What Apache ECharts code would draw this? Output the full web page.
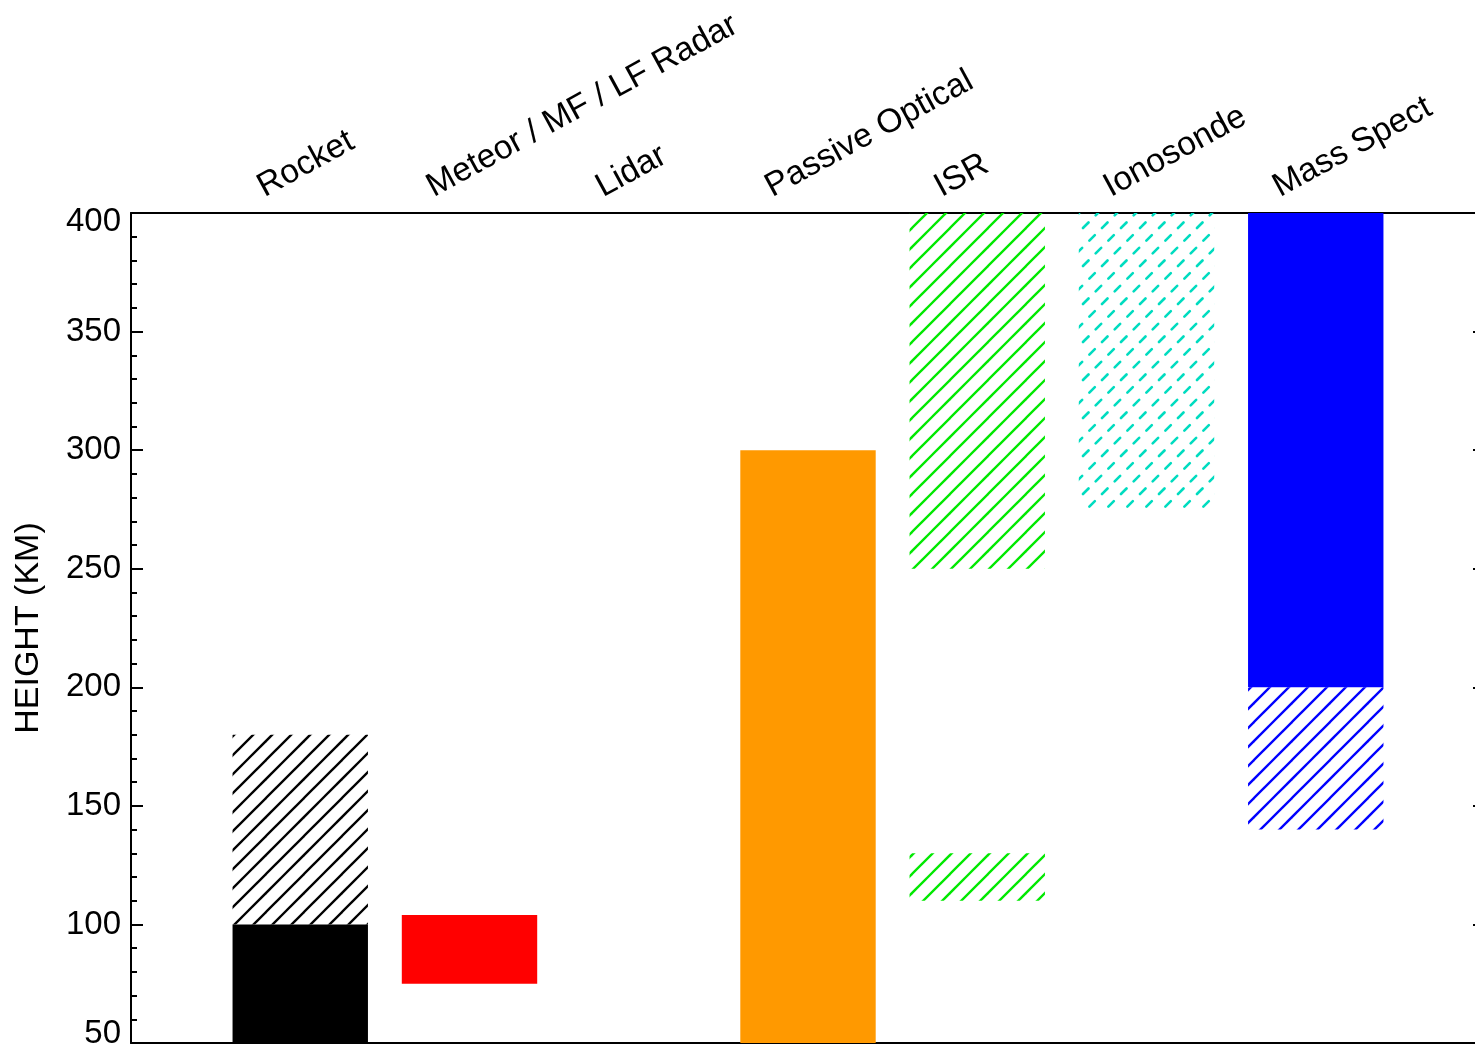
<!DOCTYPE html>
<html>
<head>
<meta charset="utf-8">
<script src="https://cdn.jsdelivr.net/npm/echarts@6/dist/echarts.min.js"></script>
<style>
  html, body { margin: 0; padding: 0; background: #fff; overflow: hidden; }
  /* the plot frame runs a little past the right edge of the picture */
  #main { width: 1495px; height: 1045px; }
</style>
</head>
<body>
<div id="main"></div>
<script>
// instruments along the top
var categories = ['Rocket', 'Meteor / MF / LF Radar', 'Lidar', 'Passive Optical', 'ISR', 'Ionosonde', 'Mass Spect'];
var yTicks = [50, 100, 150, 200, 250, 300, 350, 400];

// height ranges (km) for each instrument, x = instrument index (1..7)
var solidX    = [1, 2, 4, 7];
var solidLow  = [50, 75, 50, 200];
var solidHigh = [100, 104, 300, 400];

var hatchX    = [1, 5, 5, 7];
var hatchLow  = [100, 250, 110, 140];
var hatchHigh = [180, 400, 130, 200];

var dashX    = [6];
var dashLow  = [275];
var dashHigh = [400];

var FONT = '"Liberation Sans", Arial, Helvetica, sans-serif';

var solidColors = ['#000000', '#ff0000', '#ff9900', '#0000ff'];
var hatchColors = ['#000000', '#00e800', '#00e800', '#0000ff'];

// 45 degree hatch tile, solid or dashed
function hatchTile(color, dashed) {
    var s = 19, n = 38;
    var c = document.createElement('canvas');
    c.width = n; c.height = n;
    var g = c.getContext('2d');
    g.strokeStyle = color;
    g.lineWidth = dashed ? 2.6 : 2.3;
    g.lineCap = dashed ? 'round' : 'butt';
    for (var j = -2; j <= 6; j++) {
        var k = j * s;
        if (!dashed) {
            g.beginPath();
            g.moveTo(-n, k + n);
            g.lineTo(2 * n, k - 2 * n);
            g.stroke();
        } else {
            var P = n / 3;
            var ph = (((j % 2) + 2) % 2) ? P / 2 : 0;
            for (var x0 = ph - 3 * P; x0 < n + P; x0 += P) {
                g.beginPath();
                g.moveTo(x0, k - x0);
                g.lineTo(x0 + 5.5, k - x0 - 5.5);
                g.stroke();
            }
        }
    }
    return { image: c, repeat: 'repeat' };
}

function rows(xs, lo, hi) {
    return xs.map(function (x, i) { return [x, lo[i], hi[i], i]; });
}

function bandRenderer(fillFor) {
    return function (params, api) {
        var x = api.value(0);
        var w = api.size([0.8, 0])[0];
        var top = api.coord([x, api.value(2)]);
        var bot = api.coord([x, api.value(1)]);
        return {
            type: 'rect',
            shape: { x: top[0] - w / 2, y: top[1], width: w, height: bot[1] - top[1] },
            style: { fill: fillFor(api.value(3)) }
        };
    };
}

var hatchFills = hatchColors.map(function (c) { return hatchTile(c, false); });
var dashFill = hatchTile('#00dcc0', true);

var chart = echarts.init(document.getElementById('main'), null, { renderer: 'canvas' });

var axisLineStyle = { color: '#000', width: 2 };

chart.setOption({
    animation: false,
    backgroundColor: '#fff',
    grid: { left: 131, top: 213, width: 1354, height: 830, containLabel: false, outerBoundsMode: 'none' },
    xAxis: [
        {
            type: 'value', min: 0, max: 8, position: 'bottom',
            axisLine: { show: true, onZero: false, lineStyle: axisLineStyle },
            axisTick: { show: false }, axisLabel: { show: false }, splitLine: { show: false }
        },
        {
            type: 'value', min: 0, max: 8, position: 'top',
            axisLine: { show: true, onZero: false, lineStyle: axisLineStyle },
            axisTick: { show: false }, axisLabel: { show: false }, splitLine: { show: false }
        }
    ],
    yAxis: [
        {
            type: 'value', min: yTicks[0], max: yTicks[yTicks.length - 1], interval: 50, position: 'left',
            name: 'HEIGHT (KM)', nameLocation: 'middle', nameGap: 85, nameMoveOverlap: false,
            nameTextStyle: { fontFamily: FONT, fontSize: 34, color: '#000' },
            axisLine: { show: true, onZero: false, lineStyle: axisLineStyle },
            axisTick: { show: true, inside: true, length: 12, lineStyle: { color: '#000', width: 2 } },
            minorTick: { show: true, splitNumber: 5, length: 6, lineStyle: { color: '#000', width: 2 } },
            axisLabel: {
                fontFamily: FONT, fontSize: 33, color: '#000', margin: 10, lineHeight: 18,
                verticalAlignMaxLabel: 'top', verticalAlignMinLabel: 'bottom'
            },
            splitLine: { show: false }
        },
        {
            type: 'value', min: yTicks[0], max: yTicks[yTicks.length - 1], interval: 50, position: 'right',
            axisLine: { show: true, onZero: false, lineStyle: axisLineStyle },
            axisTick: { show: true, inside: true, length: 12, lineStyle: { color: '#000', width: 2 } },
            minorTick: { show: true, splitNumber: 5, length: 6, lineStyle: { color: '#000', width: 2 } },
            axisLabel: { show: false },
            splitLine: { show: false }
        }
    ],
    series: [
        {
            type: 'custom', name: 'solid',
            renderItem: bandRenderer(function (i) { return solidColors[i]; }),
            encode: { x: 0, y: [1, 2] },
            data: rows(solidX, solidLow, solidHigh)
        },
        {
            type: 'custom', name: 'hatch',
            renderItem: bandRenderer(function (i) { return hatchFills[i]; }),
            encode: { x: 0, y: [1, 2] },
            data: rows(hatchX, hatchLow, hatchHigh)
        },
        {
            type: 'custom', name: 'dashed',
            renderItem: bandRenderer(function () { return dashFill; }),
            encode: { x: 0, y: [1, 2] },
            data: rows(dashX, dashLow, dashHigh)
        },
        {
            // instrument names, rotated, above the frame
            type: 'custom', name: 'labels', clip: false,
            renderItem: function (params, api) {
                var p = api.coord([api.value(0), yTicks[yTicks.length - 1]]);
                return {
                    type: 'text',
                    x: p[0] - 32, y: p[1] - 9,
                    rotation: 28.5 * Math.PI / 180,
                    style: {
                        text: categories[params.dataIndex],
                        font: '33.5px ' + FONT,
                        fill: '#000',
                        align: 'left',
                        verticalAlign: 'bottom'
                    }
                };
            },
            encode: { x: 0, y: 1 },
            data: categories.map(function (c, i) { return [i + 1, yTicks[yTicks.length - 1]]; })
        }
    ]
});
</script>
</body>
</html>
